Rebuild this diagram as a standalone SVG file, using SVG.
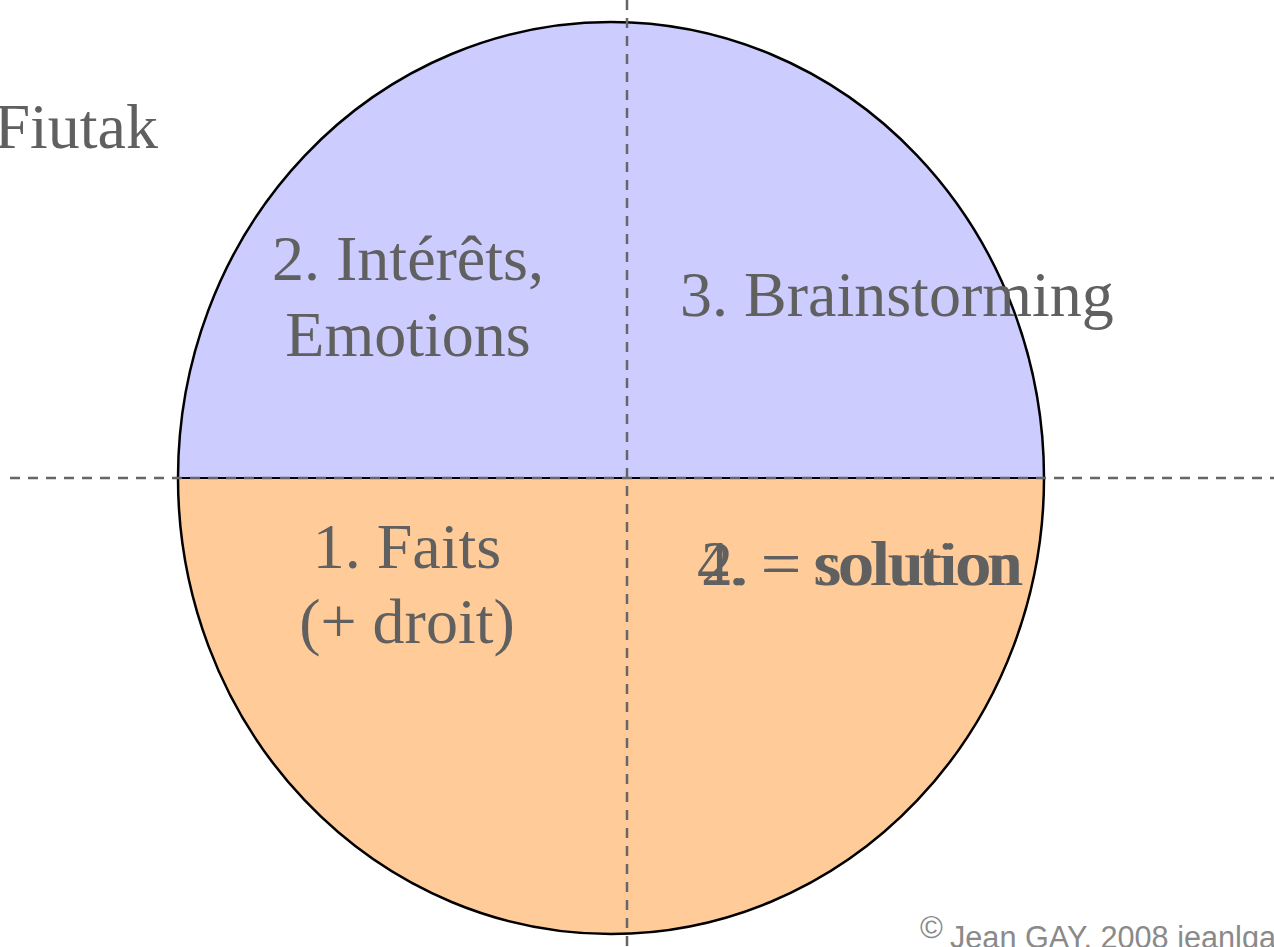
<svg xmlns="http://www.w3.org/2000/svg" width="1274" height="947" viewBox="0 0 1274 947">
<style>
.lbl{font-family:"Liberation Serif","Times New Roman",serif;font-size:64px;fill:#606060}
.dash{stroke:#666;stroke-width:2.5;stroke-dasharray:10 8;fill:none}
.copy{font-family:"Liberation Sans Narrow","Liberation Sans",sans-serif;font-size:31px;fill:#8a8a8a}
</style>
<rect width="1274" height="947" fill="#fff"/>
<g id="circle">
<path d="M178 478 A433 456 0 0 1 1044 478 Z" fill="#ccccff"/>
<path d="M178 478 A433 456 0 0 0 1044 478 Z" fill="#ffcc99"/>
<ellipse cx="611" cy="478" rx="433" ry="456" fill="none" stroke="#000" stroke-width="2.5"/>
<line x1="178" y1="478" x2="1044" y2="478" stroke="#000" stroke-width="2"/>
</g>
<g id="axes">
<line class="dash" x1="627" y1="0" x2="627" y2="947"/>
<line class="dash" x1="10" y1="478" x2="1274" y2="478"/>
</g>
<g id="title"><text class="lbl" x="158" y="148" text-anchor="end">Fiutak</text></g>
<g id="q2"><text class="lbl" text-anchor="middle"><tspan x="408" y="280">2. Intérêts,</tspan><tspan x="408" y="356">Emotions</tspan></text></g>
<g id="q3"><text class="lbl" x="680" y="316">3. Brainstorming</text></g>
<g id="q1"><text class="lbl" text-anchor="middle"><tspan x="407" y="568">1. Faits</tspan><tspan x="407" y="643">(+ droit)</tspan></text></g>
<g id="q4">
<text class="lbl" x="697" y="585">4. = solution</text>
<text class="lbl" x="701" y="585">2. = solution</text>
</g>
<g id="copyright">
<text class="copy" x="920" y="938" font-size="20">©</text>
<text class="copy" x="950" y="948" textLength="326" lengthAdjust="spacingAndGlyphs">Jean GAY, 2008 jeanlga</text>
</g>
</svg>
